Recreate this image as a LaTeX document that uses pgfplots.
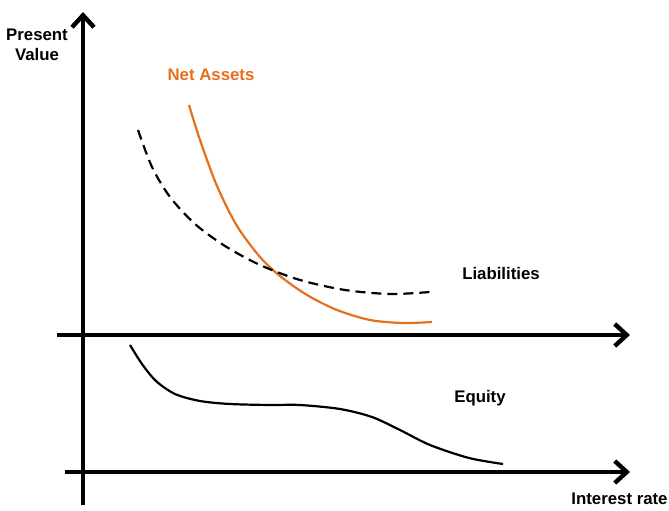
\documentclass[border=0pt]{standalone}
\usepackage{fontspec}
\setmainfont{Liberation Sans}
\usepackage{pgfplots}
\pgfplotsset{compat=1.18}
\usetikzlibrary{arrows.meta}
\definecolor{netorange}{RGB}{228,112,30}
\tikzset{lbl/.style={font=\bfseries\fontsize{8.4}{10}\selectfont, inner sep=0pt}}
\begin{document}
\begin{tikzpicture}
\begin{axis}[
    scale only axis,
    width=334.5pt, height=255pt,
    xmin=0, xmax=669, ymin=0, ymax=510,
    hide axis, clip=false,
]
\coordinate (ll) at (axis cs:0,0);
\coordinate (ur) at (axis cs:669,510);
% axes drawn as data (pixel coordinates, y up)
\addplot[line width=2.2pt, -{Straight Barb[length=6pt,width=11pt,line width=2.2pt]}]
    coordinates {(83,5) (83,498)};
\addplot[line width=2.2pt, -{Straight Barb[length=6pt,width=11pt,line width=2.2pt]}]
    coordinates {(57,175) (630,175)};
\addplot[line width=2.2pt, -{Straight Barb[length=6pt,width=11pt,line width=2.2pt]}]
    coordinates {(65,38) (630,38)};

% Net Assets
\addplot[netorange, line width=1.1pt, smooth] coordinates {
    (189,405) (200,370) (217,324) (237,284) (260,253) (280,234) (307,215) (337,200) (370,190) (403,187) (432,188)
};
% Liabilities
\addplot[black, line width=1.1pt, smooth, dash pattern=on 5pt off 3pt] coordinates {
    (138,380) (152,343) (170,313) (195,286) (225,264) (260,245) (300,230) (345,220) (390,216) (430,218)
};
% Equity
\addplot[black, line width=1.1pt, smooth] coordinates {
    (130,165) (142,146) (156,129) (175,116) (200,109) (230,106) (270,105) (300,105) (340,101) (372,93) (400,80) (430,65) (469,52) (503,46)
};

\node[lbl, align=center] at (axis cs:37,465) {Present\\Value};
\node[lbl, text=netorange] at (axis cs:211,435) {Net Assets};
\node[lbl] at (axis cs:501,237) {Liabilities};
\node[lbl] at (axis cs:480,112) {Equity};
\node[lbl, anchor=east] at (axis cs:668,11) {Interest rate};
\end{axis}
\pgfresetboundingbox
\path[use as bounding box] (ll) rectangle (ur);
\end{tikzpicture}
\end{document}
